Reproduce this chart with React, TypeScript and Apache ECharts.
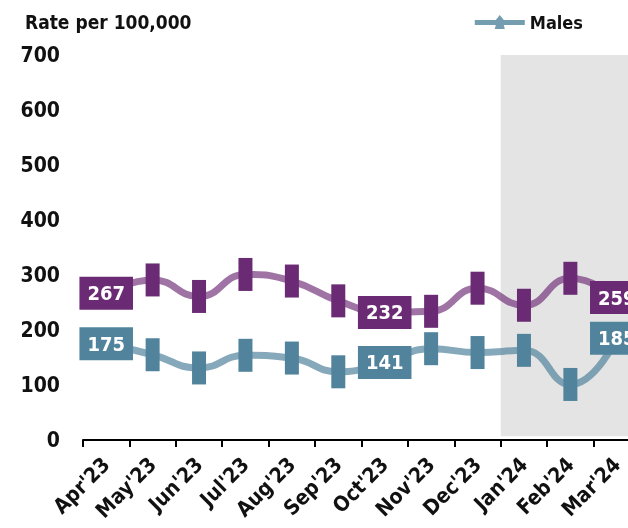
import React, { useEffect, useRef } from "react";
import * as echarts from "echarts";

const categories = ["Apr'23", "May'23", "Jun'23", "Jul'23", "Aug'23", "Sep'23", "Oct'23", "Nov'23", "Dec'23", "Jan'24", "Feb'24", "Mar'24"];
const females = [267, 291, 261, 301, 289, 253, 232, 234, 276, 245, 294, 259];
const males = [175, 155, 131, 154, 149, 124, 141, 166, 159, 163, 101, 185];
const labelledIdx = [0, 6, 11];
const shadeFrom = 9;
const shadeTo = 12;

const FONT = "'Liberation Sans Narrow', 'DejaVu Sans Condensed', 'Liberation Sans', sans-serif";
const PURPLE = "#6b2a74";
const TEAL = "#51849c";

function mkData(vals: number[], color: string) {
  return vals.map((v, i) =>
    labelledIdx.includes(i)
      ? {
          value: v,
          symbolSize: 0,
          label: {
            show: true,
            position: "inside",
            formatter: String(v),
            backgroundColor: color,
            color: "#fff",
            fontFamily: FONT,
            fontWeight: "bold",
            fontSize: 20,
            lineHeight: 21,
            padding: [6, 8, 6, 8],
          },
        }
      : { value: v }
  );
}

export default function App() {
  const ref = useRef<HTMLDivElement>(null);
  useEffect(() => {
    const chart = echarts.init(ref.current!, null, { renderer: "svg" });
    chart.setOption({
      animation: false,
      title: {
        text: "Rate per 100,000",
        left: 20,
        top: 7,
        textStyle: { fontFamily: FONT, fontWeight: "bold", fontSize: 19, color: "#111" },
      },
      legend: {
        right: 40,
        top: 8,
        itemWidth: 50,
        itemHeight: 14,
        itemGap: 2,
        textStyle: { fontFamily: FONT, fontWeight: "bold", fontSize: 18, color: "#111", padding: [0, 0, 0, 0] },
        data: [
          {
            name: "Males",
            icon: "path://M0,5h21l4,-5l4,5h21v5h-21l1,4h-10l1,-4h-21z",
            itemStyle: { color: "rgba(81,132,156,0.8)" },
          },
        ],
      },
      grid: { left: 83, top: 55, width: 557, height: 385, containLabel: false, outerBoundsMode: "none" },
      xAxis: [
        {
          type: "category",
          data: categories,
          boundaryGap: true,
          axisLine: { lineStyle: { color: "#000", width: 2 } },
          axisTick: { show: true, length: 7, lineStyle: { color: "#000", width: 2 } },
          axisLabel: {
            rotate: 45,
            interval: 0,
            margin: 21,
            fontFamily: FONT,
            fontWeight: "bold",
            fontSize: 21,
            color: "#111",
          },
        },
        { type: "value", min: 0, max: 12, show: false },
      ],
      yAxis: {
        type: "value",
        min: 0,
        max: 700,
        interval: 100,
        axisLine: { show: false },
        axisTick: { show: false },
        splitLine: { show: false },
        axisLabel: { margin: 23, fontFamily: FONT, fontWeight: "bold", fontSize: 21, color: "#111" },
      },
      series: [
        {
          name: "shade",
          type: "line",
          xAxisIndex: 1,
          data: [],
          silent: true,
          markArea: {
            silent: true,
            itemStyle: { color: "#e4e4e4" },
            data: [[{ xAxis: shadeFrom, yAxis: 703 }, { xAxis: shadeTo, yAxis: 7 }]],
          },
        },
        {
          name: "Females",
          type: "line",
          smooth: 0.5,
          data: mkData(females, PURPLE),
          symbol: "rect",
          symbolSize: [14, 33],
          itemStyle: { color: PURPLE, opacity: 1 },
          lineStyle: { color: "rgba(107,42,116,0.65)", width: 7 },
          z: 3,
        },
        {
          name: "Males",
          type: "line",
          smooth: 0.5,
          data: mkData(males, TEAL),
          symbol: "rect",
          symbolSize: [14, 33],
          itemStyle: { color: TEAL, opacity: 1 },
          lineStyle: { color: "rgba(81,132,156,0.7)", width: 7 },
          z: 3,
        },
      ],
    });
    return () => chart.dispose();
  }, []);
  return <div ref={ref} style={{ width: 628, height: 528, position: "fixed", left: 0, top: 0 }} />;
}
